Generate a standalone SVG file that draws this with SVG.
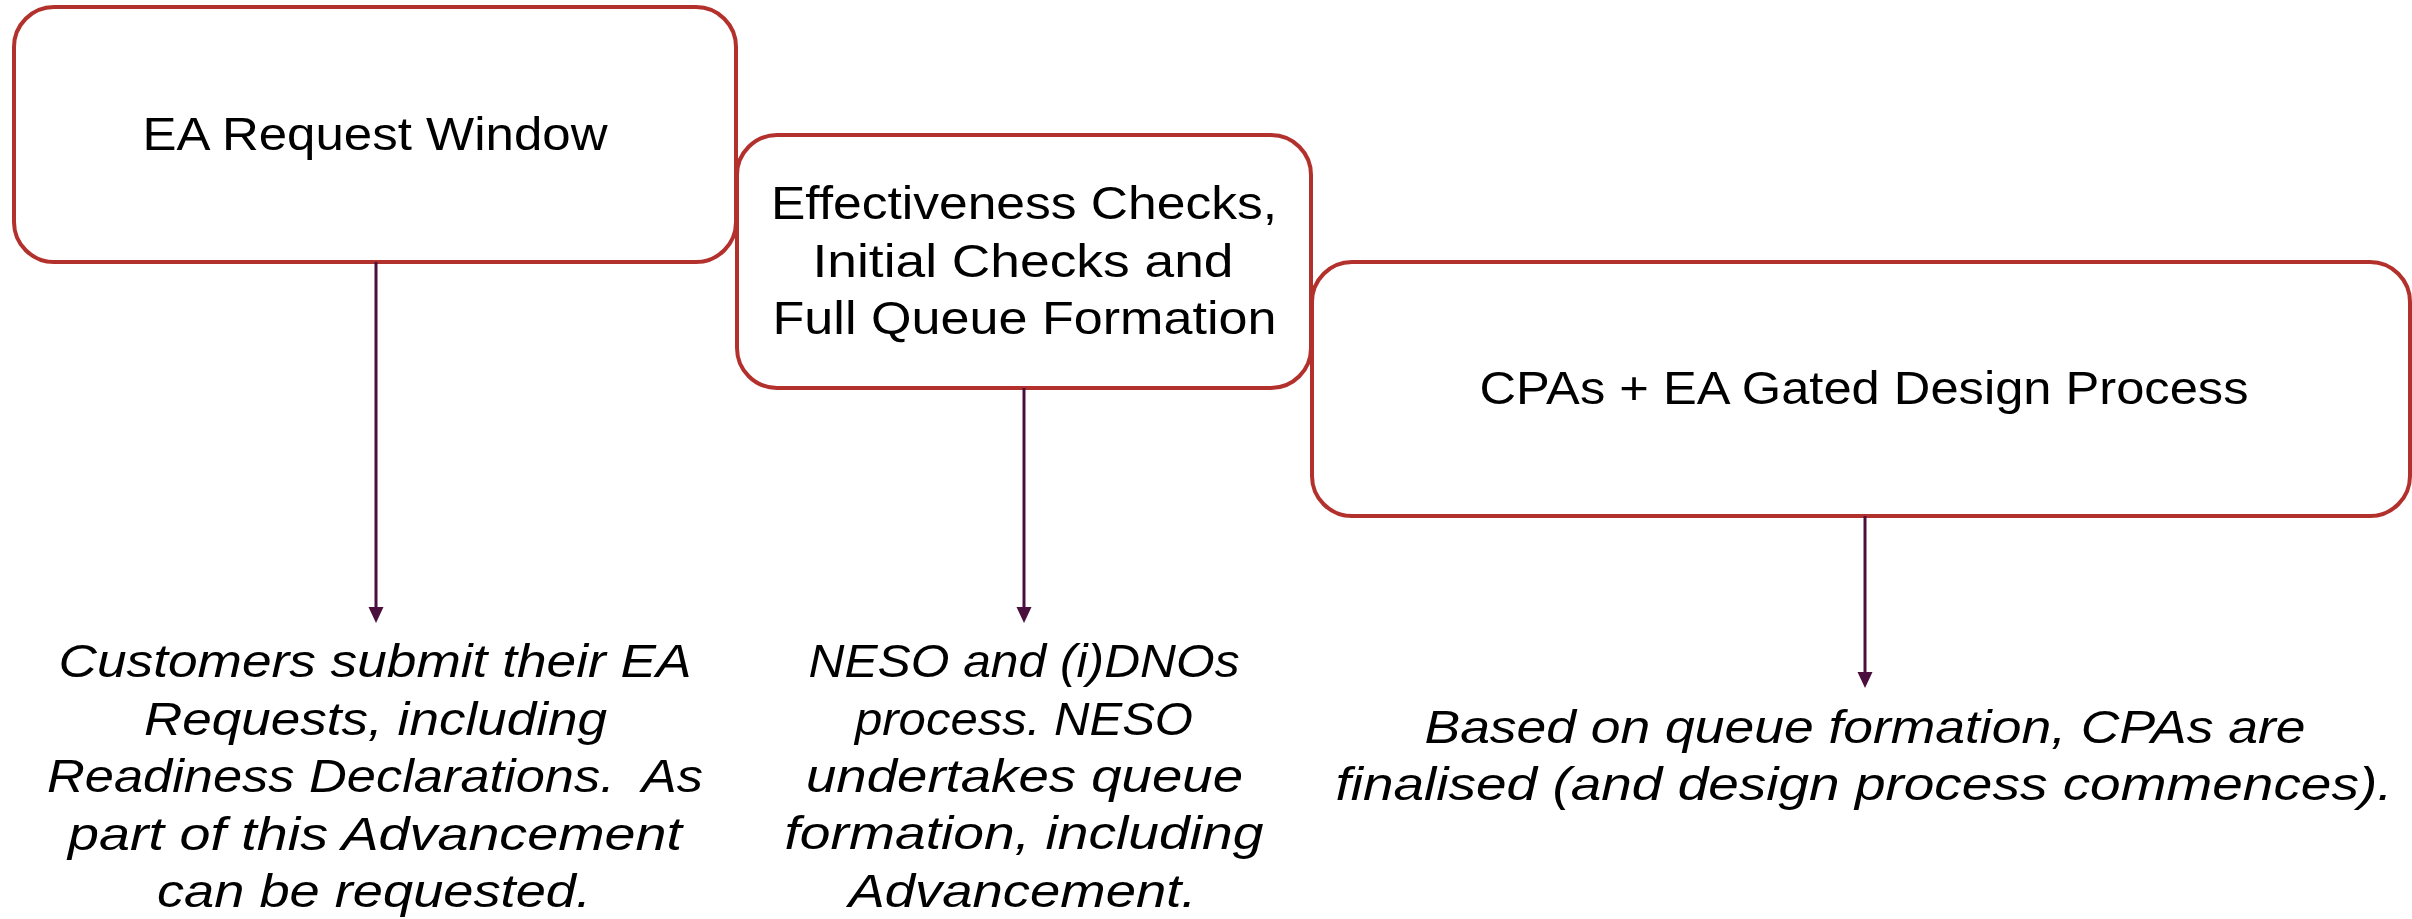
<svg xmlns="http://www.w3.org/2000/svg" width="2412" height="919" viewBox="0 0 2412 919">
<style>
.box{fill:#ffffff;stroke:#B3312C;stroke-width:4}
.t{font-family:"Liberation Sans",Arial,sans-serif;font-size:47px;fill:#000000;text-anchor:middle}
.i{font-family:"Liberation Sans",Arial,sans-serif;font-size:47px;font-style:italic;fill:#000000;text-anchor:middle}
.c{stroke:#4B0F3E;stroke-width:3;fill:none}
.ah{fill:#4B0F3E;stroke:none}
</style>
<rect width="2412" height="919" fill="#ffffff"/>
<g id="node-ea-request-window">
<rect class="box" x="14" y="7" width="722" height="255" rx="40" ry="40"/>
<text class="t" x="375" y="150" textLength="465" lengthAdjust="spacingAndGlyphs">EA Request Window</text>
</g>
<g id="node-effectiveness-checks">
<rect class="box" x="737" y="135" width="574" height="253" rx="40" ry="40"/>
<text class="t" x="1024" y="219" textLength="506" lengthAdjust="spacingAndGlyphs">Effectiveness Checks,</text>
<text class="t" x="1023" y="277" textLength="421" lengthAdjust="spacingAndGlyphs">Initial Checks and</text>
<text class="t" x="1024.5" y="334" textLength="504" lengthAdjust="spacingAndGlyphs">Full Queue Formation</text>
</g>
<g id="node-cpas">
<rect class="box" x="1312" y="262" width="1098" height="254" rx="40" ry="40"/>
<text class="t" x="1864" y="404" textLength="769" lengthAdjust="spacingAndGlyphs">CPAs + EA Gated Design Process</text>
</g>
<g id="connectors">
<line class="c" x1="376" y1="262" x2="376" y2="610"/>
<polygon class="ah" points="368.5,607 383.5,607 376,623"/>
<line class="c" x1="1024" y1="388" x2="1024" y2="610"/>
<polygon class="ah" points="1016.5,607 1031.5,607 1024,623"/>
<line class="c" x1="1865" y1="516" x2="1865" y2="675"/>
<polygon class="ah" points="1857.5,672 1872.5,672 1865,688"/>
</g>
<g id="label-customers">
<text class="i" x="375" y="677" textLength="633" lengthAdjust="spacingAndGlyphs">Customers submit their EA</text>
<text class="i" x="375.5" y="735" textLength="463" lengthAdjust="spacingAndGlyphs">Requests, including</text>
<text class="i" x="375" y="792" textLength="656" lengthAdjust="spacingAndGlyphs" xml:space="preserve">Readiness Declarations.  As</text>
<text class="i" x="375" y="850" textLength="614" lengthAdjust="spacingAndGlyphs">part of this Advancement</text>
<text class="i" x="374" y="907" textLength="434" lengthAdjust="spacingAndGlyphs">can be requested.</text>
</g>
<g id="label-neso">
<text class="i" x="1024" y="677" textLength="431" lengthAdjust="spacingAndGlyphs">NESO and (i)DNOs</text>
<text class="i" x="1024" y="735" textLength="338" lengthAdjust="spacingAndGlyphs">process. NESO</text>
<text class="i" x="1024.5" y="792" textLength="437" lengthAdjust="spacingAndGlyphs">undertakes queue</text>
<text class="i" x="1024" y="849" textLength="479" lengthAdjust="spacingAndGlyphs">formation, including</text>
<text class="i" x="1022.5" y="907" textLength="348" lengthAdjust="spacingAndGlyphs">Advancement.</text>
</g>
<g id="label-based">
<text class="i" x="1865" y="743" textLength="881" lengthAdjust="spacingAndGlyphs">Based on queue formation, CPAs are</text>
<text class="i" x="1864" y="800" textLength="1057" lengthAdjust="spacingAndGlyphs">finalised (and design process commences).</text>
</g>
</svg>
